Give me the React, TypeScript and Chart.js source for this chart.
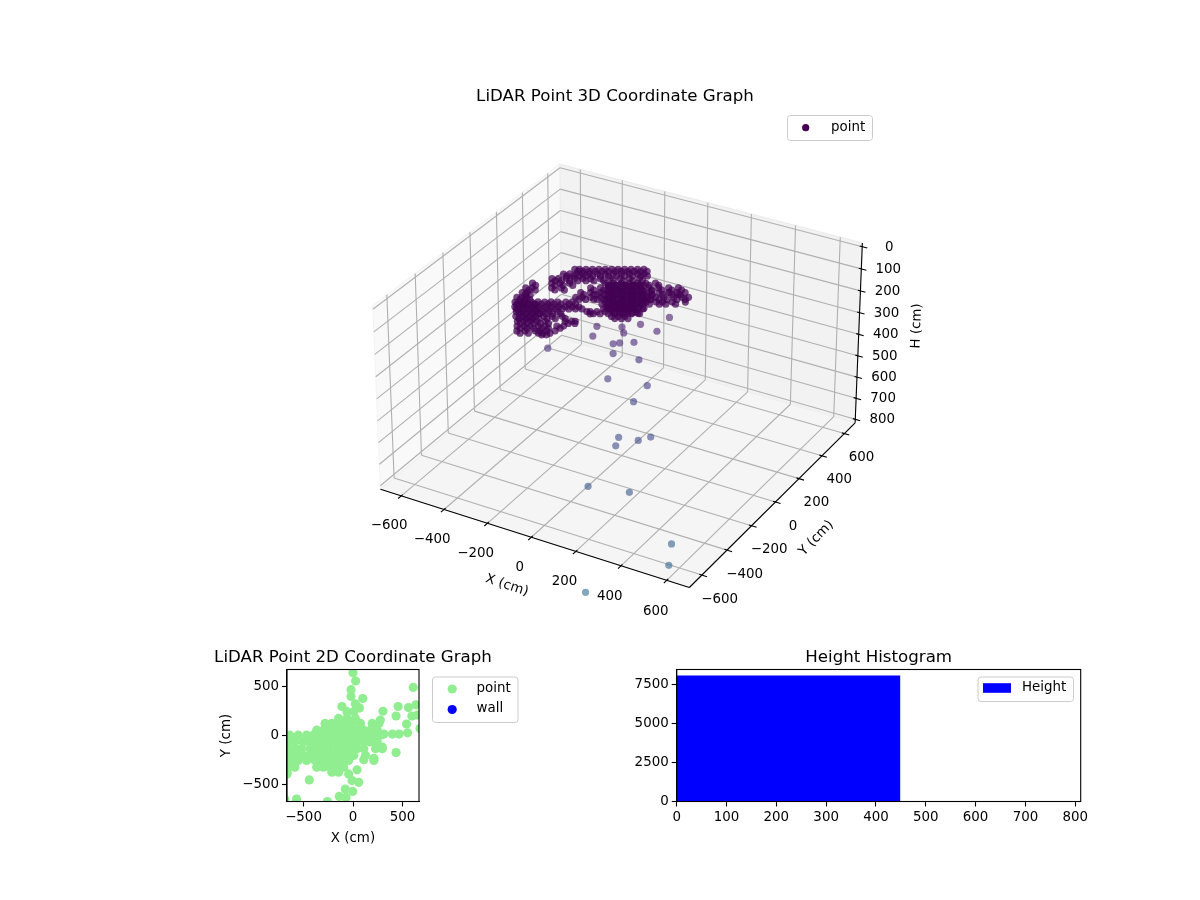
import React, { useEffect, useRef } from "react";
import { Chart, registerables } from "chart.js";

Chart.register(...registerables);

// ---------- data: 3D view ----------
const xTicks3D = [-600, -400, -200, 0, 200, 400, 600];
const yTicks3D = [-600, -400, -200, 0, 200, 400, 600];
const hTicks3D = [0, 100, 200, 300, 400, 500, 600, 700, 800];
const xyLimit = 670;
const hLimit = 800;

// dense part of the cloud, all near this height (cm)
const cloudHeight = 204;
const cloudX = [
  -386,-369,-346,-324,-301,-279,-256,-234,-211,-189,-166,-144,
  -405,-383,-360,-338,-315,-287,-259,-231,-203,-175,-147,-124,
  -425,-403,-375,-347,-318,-290,-257,-223,-189,-155,-121,
  -473,-406,-378,-344,-220,-192,-164,-136,-108,-79,-46,
  -476,-454,-386,-353,-251,-217,-184,-150,-116,-82,-49,-15,19,53,
  -468,-451,-266,-232,-198,-164,-131,-97,-63,-29,5,38,67,95,
  -466,-449,-432,-263,-240,-212,-178,-145,-111,-77,-43,-15,13,41,75,103,126,
  -452,-435,-418,-395,-373,-350,-328,-305,-277,-255,-142,-114,-86,-57,-29,-1,33,55,89,134,
  -432,-415,-393,-370,-348,-325,-303,-280,-258,-235,-213,-117,-89,-61,-32,-4,
  -407,-385,-362,-339,-317,-294,-266,-165,-154,-131,-103,-80,-52,-24,4,
  -388,-365,-342,-320,-292,-264,-230,-61,-38,-16,
  -362,-340,-317,-295,-267,-199,-177,-165,
  -343,-320,-298,-270,-247,-208,-185,
  -323,-295,-261,-245,-222,-194,
  -223,-207,
  -173,-145,-117,-89,-165,-131,-97,-63,-30,-145,-112,-78,-44,-10,-126,-92,-58,-24,4,-95,-67,-38,-10,-70,-42,-13,
];
const cloudY = [
  290,299,312,325,338,351,364,377,390,403,416,429,
  233,246,259,272,285,301,317,334,350,366,383,396,
  176,189,206,222,238,254,274,293,313,332,352,
  104,143,159,178,250,266,282,299,315,331,351,
  57,70,109,128,187,206,226,245,265,284,304,323,343,362,
  17,26,134,153,173,192,212,231,251,270,290,309,325,342,
  -27,-17,-8,90,103,119,139,158,178,197,217,233,249,265,285,301,314,
  -64,-54,-44,-31,-18,-5,8,21,37,50,115,131,147,164,180,196,216,229,248,274,
  -98,-88,-75,-62,-49,-36,-23,-10,3,16,29,84,101,117,133,149,
  -128,-115,-102,-89,-76,-63,-47,11,18,31,47,60,76,93,109,
  -162,-149,-136,-123,-107,-91,-71,26,39,52,
  -193,-180,-167,-154,-138,-99,-86,-79,
  -226,-213,-200,-184,-171,-148,-135,
  -260,-244,-224,-215,-202,-185,
  -238,-229,
  253,269,286,302,213,232,252,271,291,179,199,218,238,257,145,165,184,204,220,118,134,151,167,88,104,120,
];
const denseX = [
  -366,-349,-326,-304,-281,-259,-236,-214,-191,-169,-146,-124,
  -385,-363,-340,-318,-295,-267,-239,-211,-183,-155,-127,-104,
  -405,-383,-355,-327,-298,-270,-237,-203,-169,-135,-101,
  -453,-386,-358,-324,-200,-172,-144,-116,-88,-59,-26,
  -456,-434,-366,-333,-231,-197,-164,-130,-96,-62,-29,5,39,73,
  -448,-431,-246,-212,-178,-144,-111,-77,-43,-9,25,58,87,
  -446,-429,-412,-243,-220,-192,-158,-125,-91,-57,-23,5,33,61,95,123,
  -432,-415,-398,-375,-353,-330,-308,-285,-257,-235,-122,-94,-66,-37,-9,19,53,75,109,
  -412,-395,-373,-350,-328,-305,-283,-260,-238,-215,-193,-97,-69,-41,-12,16,
  -387,-365,-342,-319,-297,-274,-246,-145,-134,-111,-83,-60,-32,-4,24,
  -368,-345,-322,-300,-272,-244,-210,-41,-18,4,
  -342,-320,-297,-275,-247,-179,-157,
  -323,-300,-278,-250,-227,-188,
  -303,-275,-241,-225,-202,
];
const denseY = [
  281,290,303,316,329,342,355,368,381,394,407,420,
  224,237,250,263,276,292,308,325,341,357,374,387,
  167,180,197,213,229,245,265,284,304,323,343,
  95,134,150,169,241,257,273,290,306,322,342,
  48,61,100,119,178,197,217,236,256,275,295,314,334,353,
  8,17,125,144,164,183,203,222,242,261,281,300,316,
  -36,-26,-17,81,94,110,130,149,169,188,208,224,240,256,276,292,
  -73,-63,-53,-40,-27,-14,-1,12,28,41,106,122,138,155,171,187,207,220,239,
  -107,-97,-84,-71,-58,-45,-32,-19,-6,7,20,75,92,108,124,140,
  -137,-124,-111,-98,-85,-72,-56,2,9,22,38,51,67,84,100,
  -171,-158,-145,-132,-116,-100,-80,17,30,43,
  -202,-189,-176,-163,-147,-108,-95,
  -235,-222,-209,-193,-180,-157,
  -269,-253,-233,-224,-211,
];
const coreX = [
  -194,-166,-138,-110,-186,-152,-118,-84,-200,-166,-133,-99,-65,-31,-180,-147,-113,-79,-45,-17,
  -144,-116,-88,-59,-31,-3,-119,-91,-63,-34,
  -437,-420,-397,-375,-417,-395,-372,-350,-387,-364,-341,-319,-367,-344,-322,
  -199,-178,-158,-138,-117,-97,-77,
  -175,-155,-135,-114,-94,-74,-54,
  -152,-131,-111,-91,-71,-50,-30,
  -128,-108,-88,-67,-47,-27,-7,
  -105,-85,-64,-44,-24,-4,17,
  -65,-45,-24,-4,16,
];
const coreY = [
  244,260,277,293,204,223,243,262,151,170,190,209,229,248,117,136,156,175,195,211,
  93,109,125,142,158,174,62,79,95,111,
  -76,-66,-53,-40,-110,-97,-84,-71,-137,-124,-111,-98,-171,-158,-145,
  239,250,262,274,285,297,309,
  198,210,221,233,245,256,268,
  157,169,181,192,204,216,228,
  117,129,140,152,164,175,187,
  76,88,100,111,123,135,147,
  54,66,78,90,101,
];

// scattered points below the cloud
const strayX = [8,47,40,-41,26,-184,-103,-91,-185,-101,-82,-35,-327,-88,9,-66,80,70,114,230,192,128,137,289,564,598,388];
const strayY = [368,373,314,222,237,121,181,174,90,107,126,159,-24,84,122,4,65,-27,-221,-171,-203,-268,-497,-441,-598,-679,-943];
const strayH = [240,240,320,330,350,330,340,360,360,380,380,380,400,410,430,480,500,530,580,570,580,590,650,660,720,760,800];

// ---------- data: 2D scatter ----------
const planeTicks = [-500, 0, 500];
const planeX = [
  0,27,-20,-20,99,24,65,-112,303,456,609,561,636,653,595,435,276,541,677,551,466,398,313,435,296,211,109,41,-44,58,-10,-78,-3,-139,-71,-442,-571,-259,-690,-667,
  -61,7,-146,-61,24,
  -282,-214,-146,-78,-10,75,194,262,
  -367,-299,-231,-163,-95,-27,41,109,177,245,
  -639,-554,-469,-401,-333,-265,-197,-129,-61,7,75,143,211,279,
  -656,-588,-503,-435,-367,-299,-231,-163,-95,-27,41,109,177,245,
  -656,-588,-520,-435,-367,-299,-231,-163,-95,-27,41,109,228,296,
  -639,-571,-503,-435,-367,-299,-231,-163,-95,-27,7,126,
  -622,-554,-469,-384,-316,-248,-180,-112,-44,211,
  -656,-588,-367,-299,-231,-163,-95,
  -666,-214,-146,
];
const planeY = [
  633,551,463,395,374,320,279,293,245,293,486,282,310,207,197,197,156,116,71,27,14,14,14,-173,-116,-231,-245,-347,-388,-473,-456,-541,-565,-616,-626,-449,-643,-667,-643,-388,
  241,241,173,173,173,
  122,122,122,122,122,122,122,122,
  54,54,54,54,54,54,54,54,54,54,
  3,3,3,3,3,3,3,3,3,3,3,3,3,3,
  -65,-65,-65,-65,-65,-65,-65,-65,-65,-65,-65,-65,-65,-65,
  -133,-133,-133,-133,-133,-133,-133,-133,-133,-133,-133,-133,-133,-133,
  -201,-201,-201,-201,-201,-201,-201,-201,-201,-201,-201,-201,
  -252,-252,-252,-252,-252,-252,-252,-252,-252,-252,
  -320,-320,-320,-320,-320,-320,-320,
  -371,-371,-371,
];

// ---------- data: histogram ----------
const binCenters = [224];
const binCounts = [8086];
const binWidth = 448;
const histXTicks = [0, 100, 200, 300, 400, 500, 600, 700, 800];
const histYTicks = [0, 2500, 5000, 7500];

// ---------- style ----------
const FONT = "'DejaVu Sans'";
const TICK_SIZE = 13.4;
const TITLE_SIZE = 16.67;

const camScale = 3410;
const camX = 621.7;
const camY = 368;
const zHalf = 0.2976;

const canvas3D = { left: 30, top: 0, width: 1170, height: 640 };
const canvas2D = { left: 177.5, top: 640, width: 350, height: 210 };
const canvasHist = { left: 620, top: 640, width: 480, height: 200 };

const viridisStops = [
  [68, 1, 84], [72, 36, 117], [65, 68, 135], [53, 95, 141], [42, 120, 142], [33, 145, 140],
];
function viridis(t: number, alpha: number) {
  const p = Math.max(0, Math.min(0.4999, t)) * 10;
  const i = Math.floor(p);
  const f = p - i;
  const c = viridisStops[i].map((v, k) => Math.round(v + (viridisStops[i + 1][k] - v) * f));
  return `rgba(${c[0]},${c[1]},${c[2]},${alpha})`;
}

// same camera as a default 3D view: elevation 30, azimuth -60, distance 10
function project(x: number, y: number, h: number) {
  const px = (x / xyLimit) * 0.5;
  const py = (y / xyLimit) * 0.5;
  const pz = ((hLimit / 2 - h) / (hLimit / 2)) * zHalf;
  const xv = 0.866025 * px + 0.5 * py;
  const yv = -0.25 * px + 0.433013 * py + 0.866025 * pz;
  const d = 10 - (0.433013 * px - 0.75 * py + 0.5 * pz);
  return { x: xv / d, y: yv / d };
}

type Item = { kind: "dot" | "patch"; color: string; r?: number; label: string; mx: number; my: number; tx: number };
function drawLegend(ctx: CanvasRenderingContext2D, box: number[], items: Item[]) {
  const [x0, y0, x1, y1] = box;
  ctx.beginPath();
  ctx.roundRect(x0 + 0.5, y0 + 0.5, x1 - x0, y1 - y0, 3);
  ctx.fillStyle = "rgba(255,255,255,0.8)";
  ctx.fill();
  ctx.strokeStyle = "#cccccc";
  ctx.lineWidth = 1;
  ctx.stroke();
  ctx.textAlign = "left";
  ctx.textBaseline = "middle";
  ctx.font = `${TICK_SIZE}px ${FONT}`;
  for (const it of items) {
    ctx.fillStyle = it.color;
    if (it.kind === "dot") {
      ctx.beginPath();
      ctx.arc(it.mx, it.my, it.r || 4, 0, Math.PI * 2);
      ctx.fill();
    } else {
      ctx.fillRect(it.mx - 14, it.my - 4.8, 28, 9.6);
    }
    ctx.fillStyle = "#000";
    ctx.fillText(it.label, it.tx, it.my - 0.5);
  }
}

const cube3DPlugin = {
  id: "cube3D",
  beforeDatasetsDraw(chart: any) {
    const { ctx, scales } = chart;
    const P = (x: number, y: number, h: number) => {
      const p = project(x, y, h);
      return [scales.x.getPixelForValue(p.x), scales.y.getPixelForValue(p.y)];
    };
    const m = (xyLimit * 2) / 48;
    const mh = hLimit / 48;
    const lo = -xyLimit - m;
    const hi = xyLimit + m;
    const top = -mh;
    const bot = hLimit + mh;
    const poly = (pts: number[][], fill: string, edge: string) => {
      ctx.beginPath();
      pts.forEach((q, i) => (i ? ctx.lineTo(q[0], q[1]) : ctx.moveTo(q[0], q[1])));
      ctx.closePath();
      ctx.fillStyle = fill;
      ctx.fill();
      ctx.strokeStyle = edge;
      ctx.lineWidth = 1.1;
      ctx.stroke();
    };
    const seg = (a: number[], b: number[]) => {
      ctx.beginPath();
      ctx.moveTo(a[0], a[1]);
      ctx.lineTo(b[0], b[1]);
      ctx.stroke();
    };
    ctx.save();
    poly([P(lo, lo, bot), P(lo, lo, top), P(lo, hi, top), P(lo, hi, bot)], "#f9f9f9", "#f4f4f4");
    poly([P(lo, hi, bot), P(lo, hi, top), P(hi, hi, top), P(hi, hi, bot)], "#f2f2f2", "#ececec");
    poly([P(lo, lo, bot), P(lo, hi, bot), P(hi, hi, bot), P(hi, lo, bot)], "#f5f5f5", "#efefef");

    ctx.strokeStyle = "#b0b0b0";
    ctx.lineWidth = 1.1;
    for (const t of xTicks3D) {
      seg(P(t, lo, bot), P(t, hi, bot));
      seg(P(t, hi, bot), P(t, hi, top));
    }
    for (const t of yTicks3D) {
      seg(P(lo, t, bot), P(hi, t, bot));
      seg(P(lo, t, bot), P(lo, t, top));
    }
    for (const t of hTicks3D) {
      seg(P(lo, lo, t), P(lo, hi, t));
      seg(P(lo, hi, t), P(hi, hi, t));
    }

    ctx.strokeStyle = "#000";
    seg(P(lo, lo, bot), P(hi, lo, bot));
    seg(P(hi, lo, bot), P(hi, hi, bot));
    seg(P(hi, hi, bot), P(hi, hi, top));

    const out = (xyLimit * 2) / 12 * 0.2;
    const inw = (xyLimit * 2) / 12 * 0.1;
    ctx.font = `${TICK_SIZE}px ${FONT}`;
    ctx.textAlign = "center";
    ctx.textBaseline = "middle";
    ctx.fillStyle = "#000";
    const minus = (v: number) => String(v).replace("-", "\u2212");
    for (const t of xTicks3D) {
      seg(P(t, lo - out, bot), P(t, lo + inw, bot));
      const q = P(t, lo - 100, bot);
      ctx.fillText(minus(t), q[0] + 2, q[1] + 18);
    }
    for (const t of yTicks3D) {
      seg(P(hi + out, t, bot), P(hi - inw, t, bot));
      const q = P(hi + 60, t, bot);
      ctx.fillText(minus(t), q[0] + 4, q[1] + 20);
    }
    for (const t of hTicks3D) {
      seg(P(hi + out, hi, t), P(hi - inw, hi, t));
      const q = P(hi, hi, t);
      ctx.fillText(minus(t), q[0] + 27, q[1] + 0.5);
    }
    // axis titles, placed along the axes they name
    const axisText = (s: string, a: number[], b: number[], ox: number, oy: number, ang: number) => {
      ctx.save();
      ctx.translate((a[0] + b[0]) / 2 + ox, (a[1] + b[1]) / 2 + oy);
      ctx.rotate(ang);
      ctx.fillText(s, 0, 0);
      ctx.restore();
    };
    axisText("X (cm)", P(lo, lo, bot), P(hi, lo, bot), -28, 47, (18 * Math.PI) / 180);
    axisText("Y (cm)", P(hi, lo, bot), P(hi, hi, bot), 44, 33, (-46 * Math.PI) / 180);
    axisText("H (cm)", P(hi, hi, bot), P(hi, hi, top), 58, -7, (-88 * Math.PI) / 180);
    ctx.restore();
  },
  afterDatasetsDraw(chart: any) {
    const { ctx } = chart;
    ctx.save();
    ctx.translate(-canvas3D.left, -canvas3D.top);
    drawLegend(ctx, [787, 115, 872, 140], [
      { kind: "dot", color: "#440154", r: 3.6, label: "point", mx: 805.7, my: 127.7, tx: 831 },
    ]);
    ctx.restore();
  },
};

const framePlugin = (legend: (ctx: CanvasRenderingContext2D) => void) => ({
  id: "frame",
  afterDatasetsDraw(chart: any) {
    const { ctx, chartArea: a } = chart;
    ctx.save();
    ctx.strokeStyle = "#000";
    ctx.lineWidth = 1.1;
    ctx.strokeRect(a.left, a.top, a.right - a.left, a.bottom - a.top);
    legend(ctx);
    ctx.restore();
  },
});

const titleOpts = (text: string, top: number, bottom: number, fullSize: boolean) => ({
  display: true,
  text,
  fullSize,
  color: "#000",
  font: { family: FONT, size: TITLE_SIZE, weight: "normal" as const, lineHeight: 1.2 },
  padding: { top, bottom },
});

const axisOpts = (values: number[], extra: any) => ({
  type: "linear",
  border: { display: true, color: "#000", width: 1.1 },
  grid: { offset: false, drawOnChartArea: false, drawTicks: true, tickLength: 5, tickWidth: 1.1, tickColor: "#000" },
  afterBuildTicks: (s: any) => { s.ticks = values.map((value) => ({ value })); },
  ticks: {
    autoSkip: false,
    maxRotation: 0,
    padding: 3,
    color: "#000",
    font: { family: FONT, size: TICK_SIZE },
    callback: (v: number) => String(v).replace("-", "\u2212"),
  },
  ...extra,
});

const axisTitle = (text: string, padding: any) => ({
  display: true,
  text,
  color: "#000",
  font: { family: FONT, size: TICK_SIZE },
  padding,
});

export default function App() {
  const ref3D = useRef<HTMLCanvasElement>(null);
  const ref2D = useRef<HTMLCanvasElement>(null);
  const refHist = useRef<HTMLCanvasElement>(null);

  useEffect(() => {
    document.body.style.margin = "0";
    document.body.style.background = "#fff";

    const xs = [...strayX, ...cloudX, ...denseX, ...coreX];
    const ys = [...strayY, ...cloudY, ...denseY, ...coreY];
    const hs = xs.map((_, i) => (i < strayH.length ? strayH[i] : cloudHeight));
    const projected = xs.map((x, i) => project(x, ys[i], hs[i]));
    const colors = hs.map((h, i) => viridis((h - 200) / 1700, i < strayH.length ? 0.6 : 0.72));
    const titleBlock3D = TITLE_SIZE * 1.2 + 87;

    const c3 = new Chart(ref3D.current!, {
      type: "scatter",
      data: {
        datasets: [
          {
            label: "point",
            data: projected,
            backgroundColor: colors,
            borderWidth: 0,
            pointRadius: 3.6,
          },
        ],
      },
      options: {
        animation: false,
        responsive: false,
        devicePixelRatio: 1,
        layout: { padding: 0 },
        plugins: {
          legend: { display: false },
          tooltip: { enabled: false },
          title: titleOpts("LiDAR Point 3D Coordinate Graph", 87, 0, false),
        },
        scales: {
          x: {
            type: "linear",
            display: false,
            min: (canvas3D.left - camX) / camScale,
            max: (canvas3D.left + canvas3D.width - camX) / camScale,
          },
          y: {
            type: "linear",
            display: false,
            min: (camY - canvas3D.height) / camScale,
            max: (camY - titleBlock3D) / camScale,
          },
        },
      } as any,
      plugins: [cube3DPlugin] as any,
    });

    const c2 = new Chart(ref2D.current!, {
      type: "scatter",
      data: {
        datasets: [
          {
            label: "point",
            data: planeX.map((x, i) => ({ x, y: planeY[i] })),
            backgroundColor: "#90ee90",
            borderWidth: 0,
            pointRadius: 4.6,
          },
          { label: "wall", data: [], backgroundColor: "#0000ff", pointRadius: 4.6 },
        ],
      },
      options: {
        animation: false,
        responsive: false,
        devicePixelRatio: 1,
        layout: { padding: 0 },
        plugins: {
          legend: { display: false },
          tooltip: { enabled: false },
          title: titleOpts("LiDAR Point 2D Coordinate Graph", 8, 1.5, true),
        },
        scales: {
          x: axisOpts(planeTicks, {
            min: -667,
            max: 667,
            title: axisTitle("X (cm)", { top: 4, bottom: 3 }),
            afterFit: (s: any) => { s.height = 48.5; },
          }),
          y: axisOpts(planeTicks, {
            min: -667,
            max: 667,
            title: axisTitle("Y (cm)", { top: 40, bottom: 4 }),
            afterFit: (s: any) => { s.width = 109; },
          }),
          legendGutter: {
            type: "linear",
            position: "right",
            display: true,
            grid: { display: false },
            border: { display: false },
            ticks: { display: false },
            afterFit: (s: any) => { s.width = 109; },
          },
        },
      } as any,
      plugins: [
        framePlugin((ctx) => {
          ctx.save();
          ctx.translate(-canvas2D.left, -canvas2D.top);
          drawLegend(ctx, [431.5, 676.5, 517, 722], [
            { kind: "dot", color: "#90ee90", r: 4.6, label: "point", mx: 451.7, my: 689, tx: 476 },
            { kind: "dot", color: "#0000ff", r: 4.6, label: "wall", mx: 451.7, my: 709.5, tx: 476 },
          ]);
          ctx.restore();
        }),
      ] as any,
    });

    const xMax = 811;
    const plotWidth = 404;
    const c4 = new Chart(refHist.current!, {
      type: "bar",
      data: {
        datasets: [
          {
            label: "Height",
            data: binCenters.map((x, i) => ({ x, y: binCounts[i] })),
            backgroundColor: "#0000ff",
            borderWidth: 0,
            barThickness: (binWidth / xMax) * plotWidth,
          },
        ],
      },
      options: {
        animation: false,
        responsive: false,
        devicePixelRatio: 1,
        layout: { padding: { right: 19.3, left: 0, top: 0, bottom: 0 } },
        plugins: {
          legend: { display: false },
          tooltip: { enabled: false },
          title: titleOpts("Height Histogram", 8, 1.5, false),
        },
        scales: {
          x: axisOpts(histXTicks, {
            offset: false,
            min: 0,
            max: xMax,
            afterFit: (s: any) => { s.height = 38.5; },
          }),
          y: axisOpts(histYTicks, {
            min: 0,
            max: 8490,
            afterFit: (s: any) => { s.width = 56.7; },
          }),
        },
      } as any,
      plugins: [
        framePlugin((ctx) => {
          ctx.save();
          ctx.translate(-canvasHist.left, -canvasHist.top);
          drawLegend(ctx, [977.5, 676.5, 1073, 701], [
            { kind: "patch", color: "#0000ff", label: "Height", mx: 997, my: 688, tx: 1022 },
          ]);
          ctx.restore();
        }),
      ] as any,
    });

    return () => {
      c3.destroy();
      c2.destroy();
      c4.destroy();
    };
  }, []);

  const pos = (c: { left: number; top: number }) =>
    ({ position: "absolute", left: c.left, top: c.top, display: "block" } as React.CSSProperties);

  return (
    <div style={{ position: "relative", width: 1200, height: 900, background: "#fff", overflow: "hidden" }}>
      <canvas ref={ref3D} width={canvas3D.width} height={canvas3D.height} style={pos(canvas3D)} />
      <canvas ref={ref2D} width={canvas2D.width} height={canvas2D.height} style={pos(canvas2D)} />
      <canvas ref={refHist} width={canvasHist.width} height={canvasHist.height} style={pos(canvasHist)} />
    </div>
  );
}
